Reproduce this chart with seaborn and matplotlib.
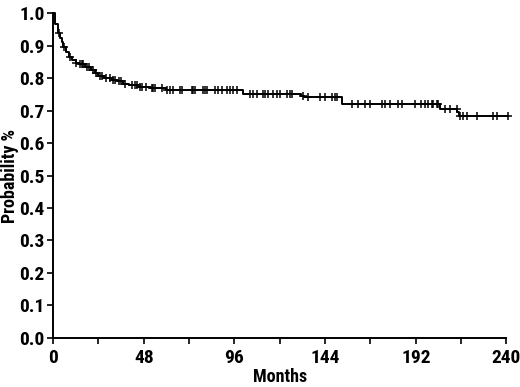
import numpy as np
import pandas as pd
import matplotlib
matplotlib.use('Agg')
import matplotlib.pyplot as plt
from matplotlib import font_manager
from matplotlib.ticker import MultipleLocator
import seaborn as sns

# Kaplan-Meier step curve (months, survival probability)
step_months = [0, 1.0, 2.5, 3.5, 4.5, 5.5, 7, 8.5, 10, 12, 14, 17, 20, 22, 24, 27,
               31, 34, 37, 40, 45, 52, 60, 100.5, 131, 133, 153, 205, 214, 215, 241]
step_surv = [1.0, 0.966, 0.94, 0.925, 0.91, 0.895, 0.88, 0.865, 0.855, 0.848, 0.842,
             0.835, 0.825, 0.815, 0.807, 0.80, 0.795, 0.79, 0.783, 0.778, 0.773,
             0.768, 0.762, 0.75, 0.745, 0.742, 0.721, 0.706, 0.695, 0.682, 0.682]

# censored observations (months)
censor_months = [3, 6, 9, 12, 14.5, 15.5, 16, 18, 19, 21, 23, 25, 26, 28, 30, 32, 33,
                 35, 36, 38, 41.6, 43.4, 44.3, 46, 46.9, 49, 52.2, 53, 54, 57.5,
                 60.2, 61.9, 63.7, 67.2, 68.1, 73.4, 74.2, 75.1, 79.5, 80.4, 81.3,
                 85.7, 87.5, 89.3, 91.9, 93.7, 95.4, 97.2, 104.2, 106, 107.8, 111.3,
                 112.2, 113.9, 116.6, 118.3, 120.1, 123.6, 125.4, 126.3, 132.4, 135.1,
                 141.3, 143.9, 147.5, 149.2, 150.1, 158, 161.5, 165, 167.7, 173.9,
                 175.7, 178.3, 182.7, 184.5, 191.5, 195, 196.8, 198.6, 200.4, 201.2,
                 203, 203.9, 207.4, 210, 213.6, 215.3, 217.1, 218.9, 224.2, 233,
                 234.8, 241]

x_ticks = [0, 48, 96, 144, 192, 240]

sns.set_style('ticks')

# pick a condensed bold face if one is installed
names = {f.name for f in font_manager.fontManager.ttflist}
narrow = [n for n in ['Liberation Sans Narrow', 'Roboto Condensed', 'Open Sans Condensed']
          if n in names]
plt.rcParams['font.family'] = narrow + ['DejaVu Sans']
plt.rcParams['font.stretch'] = 'condensed'
plt.rcParams['font.weight'] = 'bold'
plt.rcParams['text.color'] = 'black'
plt.rcParams['axes.labelcolor'] = 'black'

curve = pd.DataFrame({'Months': step_months, 'Survival': step_surv})
# survival at each censor time, looked up on the step curve
idx = np.searchsorted(step_months, censor_months, side='right') - 1
censored = pd.DataFrame({'Months': censor_months,
                         'Survival': np.array(step_surv)[idx]})

fig = plt.figure(figsize=(5.2, 3.87), dpi=100)
ax = fig.add_axes([0.102, 0.127, 0.872, 0.839])

sns.lineplot(data=curve, x='Months', y='Survival', drawstyle='steps-post',
             color='black', linewidth=1.4, ax=ax, clip_on=False)
ax.plot(censored['Months'], censored['Survival'], linestyle='none', marker='+',
        color='black', markersize=6, markeredgewidth=1.1, clip_on=False)

ax.set_xlim(0, 240)
ax.set_ylim(0, 1.0)
ax.set_xticks(x_ticks)
ax.xaxis.set_minor_locator(MultipleLocator(24))
ax.yaxis.set_major_locator(MultipleLocator(0.1))
ax.yaxis.set_major_formatter(plt.FormatStrFormatter('%.1f'))
ax.tick_params(axis='both', which='both', direction='out', length=4, width=1.2,
               color='black', labelsize=14, labelcolor='black')
ax.tick_params(axis='x', which='both', pad=4)
ax.tick_params(axis='y', pad=2)
for lab in ax.get_xticklabels() + ax.get_yticklabels():
    lab.set_fontweight('heavy')

for side in ['top', 'right']:
    ax.spines[side].set_visible(False)
for side in ['left', 'bottom']:
    ax.spines[side].set_linewidth(1.4)
    ax.spines[side].set_color('black')

ax.set_xlabel('Months', fontsize=13, fontweight='heavy', labelpad=1)
ax.set_ylabel('Probability %', fontsize=13, fontweight='heavy')
ax.yaxis.set_label_coords(-0.075, 0.5)

fig.savefig('out.png', dpi=100)
